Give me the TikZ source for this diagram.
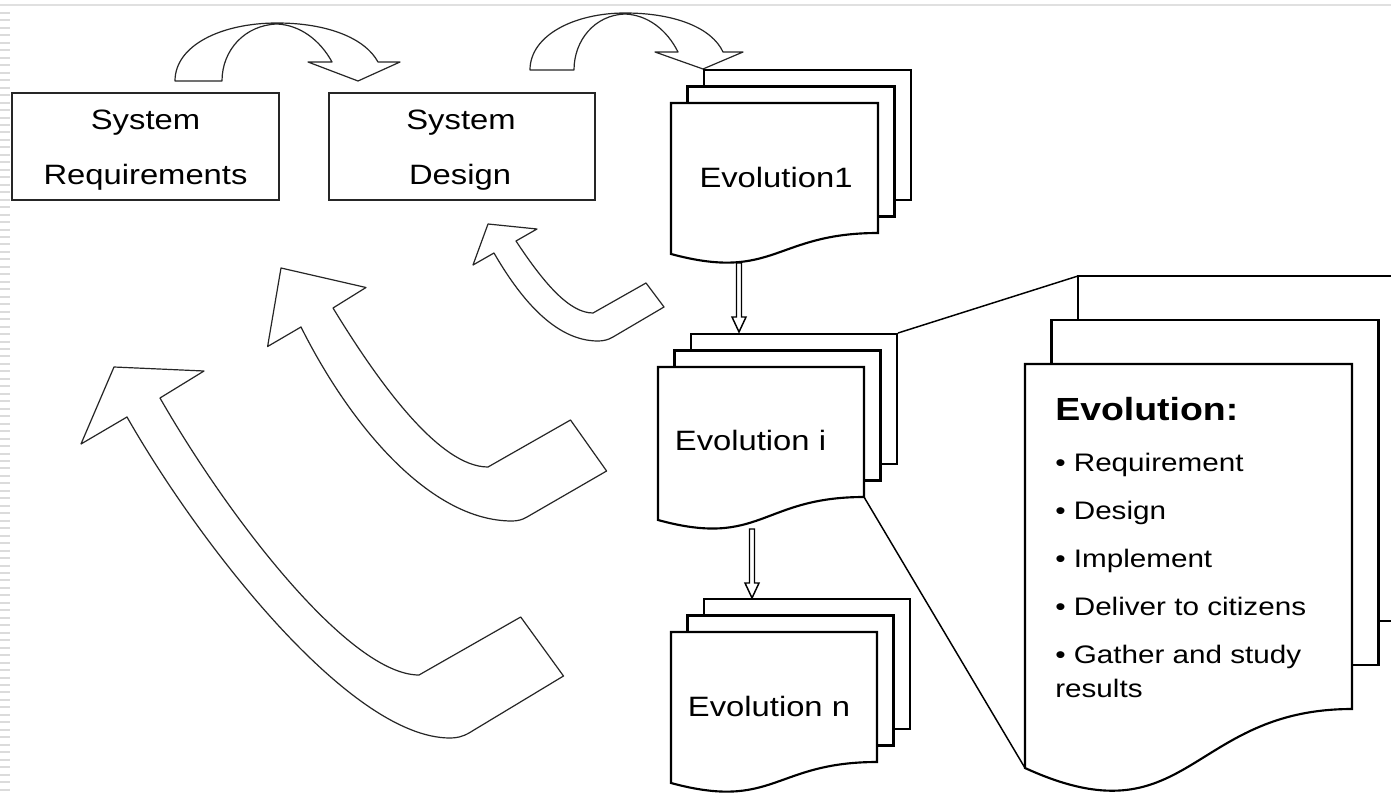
\documentclass[tikz,border=0pt]{standalone}
\usepackage{fontspec}
\setmainfont{Liberation Sans}
\usepackage{graphicx}
\usetikzlibrary{calc}
\newcommand\hs[1]{\scalebox{1.17}[1]{#1}}
% L T R RB LB dx dy
\newcommand\evostack[7]{%
 \draw[docline] ({#1+2*#6},{#2-#7}) -- ({#1+2*#6},{#2-2*#7}) -- ({#3+2*#6},{#2-2*#7}) -- ({#3+2*#6},{#4-2*#7}) -- ({#3+#6},{#4-2*#7});
 \draw[docline] ({#1+#6},{#2}) -- ({#1+#6},{#2-#7}) -- ({#3+#6},{#2-#7}) -- ({#3+#6},{#4-#7}) -- (#3,{#4-#7});
 \draw[docline, fill=white] (#1,#2) -- (#3,#2) -- (#3,#4) .. controls ({(#1+#3)/2},#4) and ({(#1+#3)/2},{#2+1.107*(#5-#2)/0.934}) .. (#1,#5) -- cycle;
}
\newcommand\hollowdown[2]{%
 \draw[hollow] ($(#1)+(-2.5,0)$) -- ($(#2)+(-2.5,-15)$) -- ($(#2)+(-7,-15)$) -- (#2) -- ($(#2)+(7,-15)$) -- ($(#2)+(2.5,-15)$) -- ($(#1)+(2.5,0)$) -- cycle;
}
\begin{document}
\begin{tikzpicture}[x=0.75pt,y=-0.75pt,
  docline/.style={line width=1.6pt, draw=black, line join=miter},
  boxline/.style={draw=black!85, line width=1.1pt, fill=white, inner sep=0pt},
  bendarrow/.style={draw=black!85, line width=0.9pt, fill=white, line join=round},
  hollow/.style={draw=black, line width=1.1pt, fill=white, line join=miter},
  callout/.style={draw=black, line width=1.1pt},
  txt/.style={inner sep=0pt, font=\fontsize{21}{25}\selectfont, text=black},
  btxt/.style={inner sep=0pt, font=\fontsize{19}{23}\selectfont, text=black, anchor=base west},
]
\useasboundingbox (0,0) rectangle (1391,795);
\clip (0,0) rectangle (1391,795);
\fill[white] (0,0) rectangle (1391,795);
% faint page artefacts
\draw[black!12, line width=1.5pt] (0,5) -- (1391,5);
\draw[black!14, line width=7.5pt, dash pattern=on 1.5pt off 4.1pt] (5,12) -- (5,795);

% boxes
\node[boxline, minimum width=200.25pt, minimum height=80.25pt] (req) at (145.5,146.5) {};
\node[boxline, minimum width=199.5pt, minimum height=80.25pt] (des) at (462,146.5) {};
\node[txt, anchor=base] (reqA) at (145.5,130) {\hs{System}};
\node[txt, anchor=base] (reqB) at (145.5,185) {\hs{Requirements}};
\node[txt, anchor=base] (desA) at (461,130) {\hs{System}};
\node[txt, anchor=base] (desB) at (460,185) {\hs{Design}};

% top curved arrows
\draw[bendarrow] (175,81) .. controls (175,45) and (222,23) .. (277,23)
  .. controls (327,23) and (365,38) .. (378,62) -- (400,62) -- (358,81) -- (308,62) -- (332,62)
  .. controls (320,40) and (300,25) .. (277,24) .. controls (245,25) and (222,50) .. (222,81) -- cycle;
\draw[bendarrow] (530,70) .. controls (530,35) and (575,13) .. (625,13)
  .. controls (675,13) and (712,28) .. (723,52) -- (743,52) -- (703,69) -- (655,52) -- (678,52)
  .. controls (667,30) and (648,15) .. (625,14) .. controls (595,15) and (574,40) .. (574,70) -- cycle;

% left curved arrows
\draw[bendarrow] (488,224) -- (537,229) -- (516,241) .. controls (545,285) and (570,313) .. (593,313)
  -- (646,283) -- (664,307) -- (613,337) .. controls (608,340) and (603,341) .. (598,341)
  .. controls (555,341) and (520,298) .. (494,253) -- (473,265) -- cycle;
\draw[bendarrow] (281,268) -- (366,287.5) -- (333,308) .. controls (380,385) and (440,467) .. (488,467)
  -- (570.5,420) -- (606.6,471) -- (527,517) .. controls (522,520) and (517,521) .. (512,521)
  .. controls (430,521) and (350,425) .. (301,327) -- (267.6,346.5) -- cycle;
\draw[bendarrow] (114,367) -- (204,371) -- (160,398) .. controls (230,520) and (350,675) .. (419,675)
  -- (520.7,617) -- (563.5,676) -- (469,733) .. controls (462,737) and (456,738) .. (450,738)
  .. controls (350,738) and (200,545) .. (127,417) -- (81,444) -- cycle;

% document stacks
\evostack{671}{103}{878}{233}{254}{16.5}{16.5}
\evostack{658}{367}{864}{497}{520}{16.5}{16.5}
\evostack{671}{632}{877}{762}{783}{16.5}{16.5}
\evostack{1025}{364}{1352}{709}{768}{26.5}{44}

\node[txt, anchor=base] (evo1) at (776,187) {\hs{Evolution1}};
\node[txt, anchor=base] (evoi) at (750.5,450) {\hs{Evolution i}};
\node[txt, anchor=base] (evon) at (769,716) {\hs{Evolution n}};

% connectors between stacks
\coordinate (e1out) at (739,263);
\coordinate (eiin) at (739,332);
\coordinate (eiout) at (752,529);
\coordinate (enin) at (752,598);
\hollowdown{e1out}{eiin}
\hollowdown{eiout}{enin}

% callout lines
\coordinate (eiTR) at (898,333);
\coordinate (bigTL) at (1078,276);
\coordinate (eiBR) at (864,497);
\coordinate (bigBL) at (1025,768);
\draw[callout] (eiTR) -- (bigTL);
\draw[callout] (eiBR) -- (bigBL);

% big document text
\node[inner sep=0pt, anchor=base west, font=\fontsize{24}{28}\selectfont\bfseries] (evt) at (1055,420) {\hs{Evolution:}};
\node[btxt] (b1) at (1055,471) {\hs{• Requirement}};
\node[btxt] (b2) at (1055,519) {\hs{• Design}};
\node[btxt] (b3) at (1055,567) {\hs{• Implement}};
\node[btxt] (b4) at (1055,615) {\hs{• Deliver to citizens}};
\node[btxt] (b5) at (1055,663) {\hs{• Gather and study}};
\node[btxt] (b6) at (1055,697) {\hs{results}};
\end{tikzpicture}
\end{document}
